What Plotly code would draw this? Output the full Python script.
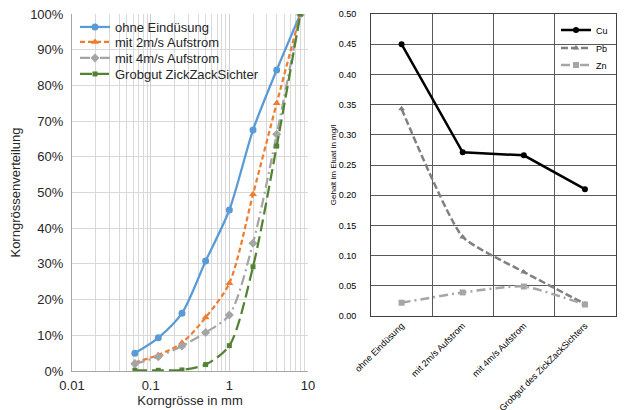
import plotly.graph_objects as go

# ---- left chart data ----
sizes_mm = [0.063, 0.125, 0.25, 0.5, 1, 2, 4, 8]
ohne = [5.0, 9.3, 16.2, 30.8, 45.1, 67.5, 84.3, 100]
mit2 = [2.4, 4.5, 7.9, 15.0, 24.6, 49.5, 75.0, 100]
mit4 = [2.0, 4.0, 7.0, 10.8, 15.7, 35.8, 66.3, 100]
grob = [0.2, 0.2, 0.3, 1.8, 7.1, 29.2, 63.0, 100]
left_names = ["ohne Eindüsung", "mit 2m/s Aufstrom", "mit 4m/s Aufstrom", "Grobgut ZickZackSichter"]

# ---- right chart data ----
cats = ["ohne Eindüsung", "mit 2m/s Aufstrom", "mit 4m/s Aufstrom", "Grobgut des ZickZackSichters"]
cu = [0.45, 0.271, 0.266, 0.21]
pb = [0.343, 0.131, 0.073, 0.02]
zn = [0.022, 0.039, 0.049, 0.019]

FONT = "Liberation Sans, Arial, sans-serif"
OFF = 8  # default page body margin
W, H = 625 - OFF, 410 - OFF


def fx(x):
    return (x - OFF) / W


def fy(y):
    return 1 - (y - OFF) / H


fig = go.Figure()

left_styles = [
    dict(color="#5B9BD5", dash="solid", symbol="circle", size=7),
    dict(color="#ED7D31", dash="5px,3px", symbol="triangle-up", size=7),
    dict(color="#A5A5A5", dash="10px,4px,2px,4px", symbol="diamond", size=7),
    dict(color="#548235", dash="12px,5px", symbol="square", size=5),
]
left_leg_keys = ["legend3", "legend4", "legend5", "legend6"]
for name, vals, st, lk in zip(left_names, [ohne, mit2, mit4, grob], left_styles, left_leg_keys):
    fig.add_trace(go.Scatter(
        x=sizes_mm, y=vals, name=name, mode="lines+markers",
        line=dict(color=st["color"], dash=st["dash"], width=2.25, shape="spline", smoothing=0.8),
        marker=dict(color=st["color"], symbol=st["symbol"], size=st["size"]),
        xaxis="x", yaxis="y", legend=lk,
    ))

right_leg_keys = ["legend7", "legend8", "legend9"]
fig.add_trace(go.Scatter(
    x=cats, y=cu, name="Cu", mode="lines+markers",
    line=dict(color="#000000", width=2.5),
    marker=dict(color="#000000", symbol="circle", size=6),
    xaxis="x2", yaxis="y2", legend=right_leg_keys[0],
))
fig.add_trace(go.Scatter(
    x=cats, y=pb, name="Pb", mode="lines+markers",
    line=dict(color="#808080", width=2.5, dash="7px,3px", shape="spline", smoothing=0.5),
    marker=dict(color="#808080", symbol="triangle-up", size=6),
    xaxis="x2", yaxis="y2", legend=right_leg_keys[1],
))
fig.add_trace(go.Scatter(
    x=cats, y=zn, name="Zn", mode="lines+markers",
    line=dict(color="#A6A6A6", width=2.5, dash="9px,4px,2px,4px", shape="spline", smoothing=0.5),
    marker=dict(color="#A6A6A6", symbol="square", size=6),
    xaxis="x2", yaxis="y2", legend=right_leg_keys[2],
))

minor_vals = []
for dec in [0.01, 0.1, 1]:
    for k in range(2, 10):
        minor_vals.append(k * dec)

legends = {}
for lk, yc in zip(left_leg_keys, [27, 42, 58, 74]):
    legends[lk] = dict(
        x=fx(67 + OFF), y=fy(yc), xanchor="left", yanchor="middle",
        bgcolor="rgba(0,0,0,0)", font=dict(size=13, color="#262626"),
        itemwidth=30, borderwidth=0, visible=True,
    )
for lk, yc in zip(right_leg_keys, [30, 48, 65]):
    legends[lk] = dict(
        x=fx(548 + OFF), y=fy(yc), xanchor="left", yanchor="middle",
        bgcolor="rgba(0,0,0,0)", font=dict(size=9, color="#000000"),
        itemwidth=30, borderwidth=0, visible=True,
    )

fig.update_layout(
    width=W, height=H,
    showlegend=True,
    margin=dict(l=0, r=0, t=0, b=0, autoexpand=False),
    paper_bgcolor="white", plot_bgcolor="white",
    font=dict(family=FONT, color="#262626"),
    xaxis=dict(
        domain=[fx(72), fx(308)], anchor="y", type="log", range=[-2, 1], automargin=False,
        tickvals=[0.01, 0.1, 1, 10], ticktext=["0.01", "0.1", "1", "10"],
        tickfont=dict(size=13), showgrid=True, gridcolor="#D0D0D0", gridwidth=1,
        minor=dict(tickvals=minor_vals, showgrid=True, gridcolor="#D9D9D9", gridwidth=1, ticks=""),
        showline=True, linecolor="#A6A6A6", linewidth=1, ticks="", zeroline=False,
        ticklabelstandoff=2, ticklabeloverflow="allow",
        title=dict(text="Korngrösse in mm", font=dict(size=13), standoff=2),
    ),
    yaxis=dict(
        domain=[fy(371), fy(14)], anchor="x", range=[0, 100], automargin=False,
        tickvals=list(range(0, 101, 10)), ticktext=[f"{v}%" for v in range(0, 101, 10)],
        tickfont=dict(size=13), showgrid=True, gridcolor="#D9D9D9", gridwidth=1,
        showline=True, linecolor="#A6A6A6", linewidth=1, ticks="", zeroline=False,
        ticklabelstandoff=5, ticklabeloverflow="allow",
        title=dict(text="Korngrössenverteilung", font=dict(size=13), standoff=12),
    ),
    xaxis2=dict(
        domain=[fx(371), fx(615.5)], anchor="y2", type="category", automargin=False,
        tickson="boundaries", tickangle=-45, tickfont=dict(size=9, color="#000000"),
        showgrid=True, gridcolor="#595959", gridwidth=1,
        showline=True, linecolor="#404040", linewidth=1, mirror=True, ticks="",
        ticklabeloverflow="allow",
        range=[-0.5, 3.5],
    ),
    yaxis2=dict(
        domain=[fy(316), fy(14)], anchor="x2", range=[0, 0.5], automargin=False,
        tickvals=[i * 0.05 for i in range(11)], ticktext=[f"{i*0.05:.2f}" for i in range(11)],
        tickfont=dict(size=9, color="#000000"), showgrid=True, gridcolor="#595959", gridwidth=1,
        showline=True, linecolor="#404040", linewidth=1, mirror=True, ticks="", zeroline=False,
        ticklabelstandoff=12, ticklabeloverflow="allow",
        title=dict(text="Gehalt im Eluat in mg/l", font=dict(size=8, color="#000000"), standoff=0),
    ),
    shapes=[
        dict(type="rect", xref="paper", yref="paper", x0=fx(73), x1=fx(262), y0=fy(80), y1=fy(15),
             fillcolor="white", line=dict(width=0), layer="between"),
        dict(type="rect", xref="paper", yref="paper", x0=fx(567), x1=fx(615), y0=fy(76), y1=fy(18),
             fillcolor="white", line=dict(width=0), layer="between"),
    ],
    **legends,
)

fig.write_html("out.html")
